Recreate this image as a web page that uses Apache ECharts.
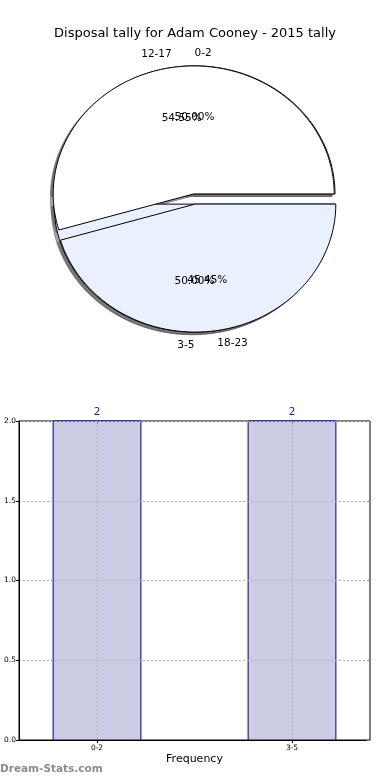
<!DOCTYPE html>
<html><head><meta charset="utf-8">
<script src="https://cdn.jsdelivr.net/npm/echarts@6/dist/echarts.min.js"></script>
<style>html,body{margin:0;padding:0;background:#fff}#c{width:390px;height:780px}</style>
</head><body><div id="c"></div>
<script>
const titleText = 'Disposal tally for Adam Cooney - 2015 tally';
const pieACategories = ['0-2', '3-5'];
const pieAValues = [2, 2];
const pieBCategories = ['12-17', '18-23'];
const pieBValues = [6, 5];
const pieColors = ['#ffffff', '#eaf0fd'];
const barCategories = ['0-2', '3-5'];
const barPositions = [0, 1];
const barValues = [2, 2];
const yTicks = [0, 0.5, 1, 1.5, 2];
const xAxisName = 'Frequency';
const watermark = 'Dream-Stats.com';

const EXPLODE = 0.04, LABEL_D = 1.1, PCT_D = 0.6, SHADOW_OFF = -0.02, BAR_W = 0.45;
const FONT = 'DejaVu Sans';

function buildWedges(cats, vals, pieIdx) {
  const total = vals.reduce((a, b) => a + b, 0);
  let acc = 0;
  return vals.map((v, i) => {
    const s = acc / total * 360; acc += v; const e = acc / total * 360;
    return { name: cats[i], value: [pieIdx, i, s, e, v / total * 100] };
  });
}
const wedgesA = buildWedges(pieACategories, pieAValues, 0);
const wedgesB = buildWedges(pieBCategories, pieBValues, 1);
const allWedges = wedgesA.concat(wedgesB);

function geom(api) {
  const s = api.value(2), e = api.value(3);
  const mid = (s + e) / 2 * Math.PI / 180;
  return { s, e, mid, cx: EXPLODE * Math.cos(mid), cy: EXPLODE * Math.sin(mid) };
}
function wedgePoints(api, dx, dy) {
  const g = geom(api);
  const pts = [api.coord([g.cx + dx, g.cy + dy])];
  const n = Math.max(2, Math.ceil(g.e - g.s));
  for (let k = 0; k <= n; k++) {
    const t = (g.s + (g.e - g.s) * k / n) * Math.PI / 180;
    pts.push(api.coord([g.cx + dx + Math.cos(t), g.cy + dy + Math.sin(t)]));
  }
  return pts;
}
function shadowItem(params, api) {
  return { type: 'polygon', shape: { points: wedgePoints(api, SHADOW_OFF, SHADOW_OFF) },
    style: { fill: 'rgba(77,77,77,0.5)', stroke: 'rgba(77,77,77,0.5)', lineWidth: 1 } };
}
function wedgeItem(params, api) {
  return { type: 'polygon', shape: { points: wedgePoints(api, 0, 0) },
    style: { fill: pieColors[api.value(1)], stroke: '#000', lineWidth: 1 } };
}
function labelItem(params, api) {
  const g = geom(api);
  const lx = g.cx + LABEL_D * Math.cos(g.mid), ly = g.cy + LABEL_D * Math.sin(g.mid);
  const px = g.cx + PCT_D * Math.cos(g.mid), py = g.cy + PCT_D * Math.sin(g.mid);
  const lp = api.coord([lx, ly]), pp = api.coord([px, py]);
  const name = allWedges[params.dataIndex].name;
  return { type: 'group', children: [
    { type: 'text', x: lp[0], y: lp[1], style: { text: name, fill: '#000', fontSize: 10.5, fontFamily: FONT,
      align: Math.cos(g.mid) > 0 ? 'left' : 'right', verticalAlign: 'middle' } },
    { type: 'text', x: pp[0], y: pp[1], style: { text: api.value(4).toFixed(2) + '%', fill: '#000', fontSize: 10.5, fontFamily: FONT,
      align: 'center', verticalAlign: 'middle' } }
  ] };
}
const barData = barPositions.map((p, i) => [p, barValues[i]]);
function barItem(params, api) {
  const x = api.value(0), y = api.value(1);
  const p0 = api.coord([x - BAR_W / 2, y]);
  const p1 = api.coord([x + BAR_W / 2, 0]);
  return { type: 'group', children: [
    { type: 'rect', shape: { x: p0[0], y: p0[1], width: p1[0] - p0[0], height: p1[1] - p0[1] },
      style: { fill: '#ccccE5', stroke: '#000080', lineWidth: 1 } },
    { type: 'text', x: (p0[0] + p1[0]) / 2, y: p0[1] - 8.5, style: { text: String(y), fill: '#1c1c70', fontSize: 10.5, fontFamily: FONT, align: 'center', verticalAlign: 'middle' } }
  ] };
}

const chart = echarts.init(document.getElementById('c'), null, { renderer: 'canvas' });
const dotted = { color: '#b0b0b0', width: 1, type: [2, 2] };
chart.setOption({
  animation: false,
  backgroundColor: '#fff',
  title: { text: titleText, left: 'center', top: 22, textStyle: { fontFamily: FONT, fontSize: 13, fontWeight: 'normal', color: '#000' } },
  graphic: [{ type: 'text', left: 0, top: 764, style: { text: watermark, fill: '#8c8c8c', font: 'bold 10.5px "DejaVu Sans"' } }],
  grid: [
    { left: 54, width: 281, top: 71, height: 256, show: false },
    { left: 19, right: 20, top: 421, bottom: 40, show: true, borderColor: '#000', borderWidth: 1 }
  ],
  xAxis: [
    { gridIndex: 0, type: 'value', min: -1, max: 1, show: false },
    { gridIndex: 1, type: 'value', min: -0.4, max: 1.4, z: 3, name: xAxisName, nameLocation: 'middle', nameGap: 14,
      nameTextStyle: { fontFamily: FONT, fontSize: 11, color: '#000' },
      axisLine: { show: true, onZero: false, lineStyle: { color: '#000', width: 1 } },
      axisTick: { show: true, customValues: barPositions, length: 3, lineStyle: { color: '#000' } },
      axisLabel: { customValues: barPositions, formatter: v => barCategories[barPositions.indexOf(v)] || '', fontFamily: FONT, fontSize: 7.5, color: '#000', margin: 4 },
      splitLine: { show: true, lineStyle: dotted } },
    { gridIndex: 1, type: 'value', min: -0.4, max: 1.4, position: 'top', z: 3,
      axisLine: { show: false, onZero: false }, axisLabel: { show: false }, splitLine: { show: false },
      axisTick: { show: true, inside: true, customValues: barPositions, length: 3, lineStyle: { color: '#888' } } }
  ],
  yAxis: [
    { gridIndex: 0, type: 'value', min: -1, max: 1, show: false },
    { gridIndex: 1, type: 'value', min: 0, max: 2, interval: 0.5, z: 3,
      axisLine: { show: true, onZero: false, lineStyle: { color: '#000', width: 1 } },
      axisTick: { show: true, length: 3, lineStyle: { color: '#000' } },
      axisLabel: { formatter: v => v.toFixed(1), fontFamily: FONT, fontSize: 7.5, color: '#000', margin: 3 },
      splitLine: { show: true, lineStyle: dotted } },
    { gridIndex: 1, type: 'value', min: 0, max: 2, interval: 0.5, position: 'right', z: 3,
      axisLine: { show: false, onZero: false }, axisLabel: { show: false }, splitLine: { show: false },
      axisTick: { show: true, inside: true, length: 3, lineStyle: { color: '#888' } } }
  ],
  series: [
    { type: 'custom', xAxisIndex: 0, yAxisIndex: 0, clip: false, z: 1, silent: true, data: allWedges, renderItem: shadowItem },
    { type: 'custom', xAxisIndex: 0, yAxisIndex: 0, clip: false, z: 2, silent: true, data: wedgesA, renderItem: wedgeItem },
    { type: 'custom', xAxisIndex: 0, yAxisIndex: 0, clip: false, z: 3, silent: true, data: wedgesB, renderItem: wedgeItem },
    { type: 'custom', xAxisIndex: 0, yAxisIndex: 0, clip: false, z: 4, silent: true, data: allWedges, renderItem: labelItem },
    { type: 'custom', xAxisIndex: 1, yAxisIndex: 1, clip: false, z: 1, silent: true, data: barData, renderItem: barItem }
  ]
});
</script></body></html>
